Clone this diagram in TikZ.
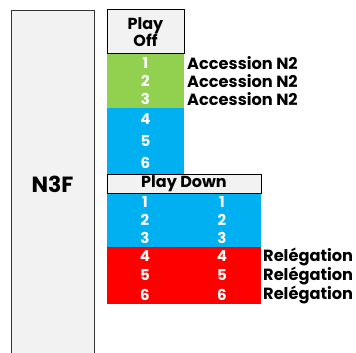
\documentclass[tikz,border=0pt]{standalone}
\usepackage{fontspec}
\setmainfont{Poppins}
\definecolor{cellgray}{HTML}{F2F2F2}
\definecolor{cellgreen}{HTML}{92D050}
\definecolor{cellblue}{HTML}{00B0F0}
\definecolor{cellred}{HTML}{FF0000}
\tikzset{
  cell/.style={inner sep=0pt, outer sep=0pt, anchor=north west},
  num/.style={text=white, font=\fontsize{15}{16}\selectfont\bfseries},
  lab/.style={anchor=west, inner sep=0pt, font=\fontsize{16.2}{17}\selectfont\bfseries},
  head/.style={draw=black, line width=1pt, fill=cellgray, font=\fontsize{16}{17}\selectfont\bfseries, align=center}
}
\begin{document}
\begin{tikzpicture}[x=1pt,y=-1pt]
\useasboundingbox (0,0) rectangle (356,353);
% left column
\path[fill=cellgray] (11,10) rectangle (94,354);
\draw[line width=0.8pt, draw=black!80] (11,354) -- (11,10) -- (94,10) -- (94,354);
\node[font=\fontsize{22}{23}\selectfont\bfseries] (n3f) at (52.5,184) {N3F};
% Play Off
\node[head, cell, minimum width=77pt, minimum height=44pt] (po) at (107,10) {Play\\Off};
\node[cell, fill=cellgreen, minimum width=77pt, minimum height=54pt] (green) at (107,54) {};
\node[cell, fill=cellblue, minimum width=77pt, minimum height=66pt] (blue1) at (107,108) {};
\node[num] (p1) at (145.5,63) {1};
\node[num] (p2) at (145.5,81) {2};
\node[num] (p3) at (145.5,99) {3};
\node[num] (p4) at (145.5,119) {4};
\node[num] (p5) at (145.5,141) {5};
\node[num] (p6) at (145.5,163) {6};
\node[lab] (a1) at (187,63) {Accession N2};
\node[lab] (a2) at (187,81) {Accession N2};
\node[lab] (a3) at (187,99) {Accession N2};
% Play Down
\node[cell, fill=cellblue, minimum width=154pt, minimum height=54pt] (blue2) at (107,193) {};
\node[cell, fill=cellred, minimum width=154pt, minimum height=57pt] (red) at (107,247) {};
\node[head, cell, minimum width=154pt, minimum height=19pt] (pd) at (107,174) {Play Down};
\foreach \i/\y in {1/202,2/220,3/238,4/256.5,5/275.5,6/294.5}{
  \node[num] (d\i a) at (145,\y) {\i};
  \node[num] (d\i b) at (222,\y) {\i};
}
\node[lab] (r1) at (263,256.5) {Relégation};
\node[lab] (r2) at (263,275.5) {Relégation};
\node[lab] (r3) at (263,294.5) {Relégation};
\end{tikzpicture}
\end{document}
